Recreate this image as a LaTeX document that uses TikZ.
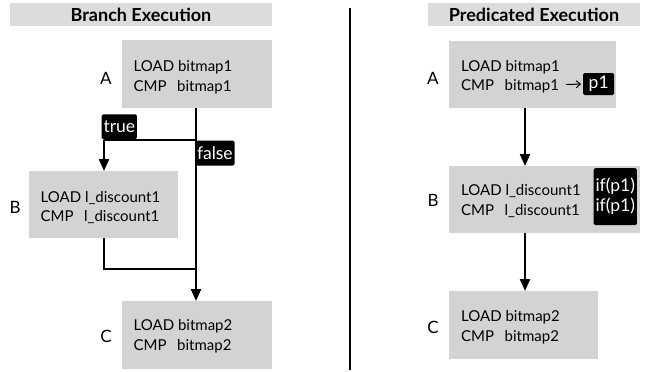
\documentclass[tikz,border=0pt]{standalone}
\usepackage{fontspec}
\setmainfont{Lato}
\usetikzlibrary{arrows.meta}
\definecolor{boxgray}{HTML}{D3D3D3}
\definecolor{headgray}{HTML}{DCDCDC}
\begin{document}
\begin{tikzpicture}[x=1pt,y=-1pt,
  head/.style={fill=headgray, inner sep=0pt, font=\fontsize{18}{21}\selectfont\bfseries},
  blk/.style={fill=boxgray, inner sep=0pt, anchor=north west},
  code/.style={anchor=west, align=left, inner sep=0pt, font=\fontsize{15}{19.5}\selectfont},
  lbl/.style={inner sep=0pt, font=\fontsize{17}{20}\selectfont},
  tag/.style={fill=black, text=white, rounded corners=1.5pt, inner sep=1.8pt, align=left,
              font=\fontsize{17.5}{20}\selectfont},
  wire/.style={line width=2.2pt},
  flow/.style={line width=2.2pt, -{Triangle[width=10pt,length=12pt]}},
  tip/.style={line width=1pt, -{Straight Barb[width=7pt,length=4pt]}, shorten >=2pt},
]
\useasboundingbox (0,0) rectangle (646,372);

% ---------- branch execution ----------
\node[head, minimum width=262pt, minimum height=23pt] (lhead) at (141,14.5) {Branch Execution};

\node[blk, minimum width=150pt, minimum height=68pt] (lA) at (122,40) {};
\node[blk, minimum width=149pt, minimum height=67pt] (lB) at (29,171) {};
\node[blk, minimum width=150pt, minimum height=68pt] (lC) at (122,301) {};

\node[code] (lAt) at (133.5,77.5) {LOAD bitmap1\\CMP\hspace{0.7em}bitmap1};
\node[code] (lBt) at (40.5,207.5) {LOAD l\_discount1\\CMP\hspace{0.7em}l\_discount1};
\node[code] (lCt) at (133.5,336.5) {LOAD bitmap2\\CMP\hspace{0.7em}bitmap2};

\node[lbl] (lAl) at (106,78) {A};
\node[lbl] (lBl) at (15,207) {B};
\node[lbl] (lCl) at (106,336) {C};

\coordinate (lsplit) at (196,140);
\coordinate (lturn) at (104,140);
\coordinate (ljoin) at (196,269);
\coordinate (lback) at (104,269);

\draw[wire] (lsplit) -- (lturn);
\draw[flow] (lturn) -- (lturn |- lB.north);
\draw[flow] (lA.south -| lsplit) -- (lC.north -| lsplit);
\draw[wire] (lB.south -| lback) -- (lback) -- (ljoin);

\node[tag, anchor=south west, minimum height=25pt] (ltrue) at (101.5,139.5) {true};
\node[tag, anchor=north west, minimum height=25pt] (lfalse) at (195,140.5) {false};

% ---------- divider ----------
\coordinate (dtop) at (350,8);
\coordinate (dbot) at (350,370);
\draw[line width=2.2pt] (dtop) -- (dbot);

% ---------- predicated execution ----------
\node[head, minimum width=212pt, minimum height=23pt] (rhead) at (534,14.5) {Predicated Execution};

\node[blk, minimum width=167pt, minimum height=67pt] (rA) at (449,41) {};
\node[blk, minimum width=191pt, minimum height=67pt] (rB) at (449,166) {};
\node[blk, minimum width=149pt, minimum height=68pt] (rC) at (449,291) {};

\node[code] (rAt) at (461,77) {LOAD bitmap1\\CMP\hspace{0.7em}bitmap1};
\node[code] (rBt) at (461,201) {LOAD l\_discount1\\CMP\hspace{0.7em}l\_discount1};
\node[code] (rCt) at (461,327.5) {LOAD bitmap2\\CMP\hspace{0.7em}bitmap2};

\node[lbl] (rAl) at (433,78) {A};
\node[lbl] (rBl) at (433,200) {B};
\node[lbl] (rCl) at (433,327) {C};

\node[tag, anchor=west, minimum height=22pt, minimum width=31pt] (p1) at (583,84) {p1};
\coordinate (pstart) at (566,84.5);
\draw[tip] (pstart) -- (p1.west);

\node[tag, anchor=north west, minimum width=43pt, minimum height=57pt] (pif) at (593.5,168) {if(p1)\\if(p1)};

\draw[flow] (rA.south -| 525,0) -- (rB.north -| 525,0);
\draw[flow] (rB.south -| 525,0) -- (rC.north -| 525,0);
\end{tikzpicture}
\end{document}
